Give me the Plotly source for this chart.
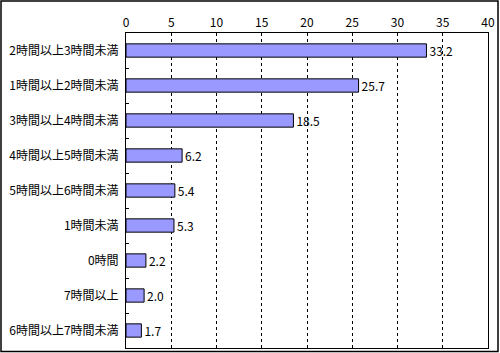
import plotly.graph_objects as go

categories = ["2時間以上3時間未満", "1時間以上2時間未満", "3時間以上4時間未満", "4時間以上5時間未満",
              "5時間以上6時間未満", "1時間未満", "0時間", "7時間以上", "6時間以上7時間未満"]
values = [33.2, 25.7, 18.5, 6.2, 5.4, 5.3, 2.2, 2.0, 1.7]
x_ticks = [0, 5, 10, 15, 20, 25, 30, 35, 40]

W, H = 500, 353
L, R, T, B = 126, 12, 33, 5
pw, ph = W - L - R, H - T - B

fig = go.Figure(go.Bar(
    y=categories, x=values, orientation="h",
    marker=dict(color="#9999FF", line=dict(color="black", width=1)),
    text=[f"{v:.1f}" for v in values], textposition="outside",
    textfont=dict(family="Noto Sans CJK JP", size=12, color="black"),
    constraintext="none", cliponaxis=False, width=0.38,
))

fig.update_layout(
    width=W, height=H, margin=dict(l=L, r=R, t=T, b=B),
    paper_bgcolor="white", plot_bgcolor="white", showlegend=False,
    font=dict(family="Noto Sans CJK JP", size=12, color="black"),
    xaxis=dict(range=[0, 40], tickvals=x_ticks, side="top", showgrid=True,
               gridcolor="black", griddash="3px,3px", gridwidth=1, zeroline=False,
               showline=True, linecolor="black", linewidth=1, mirror=True,
               ticks="", tickfont=dict(size=12)),
    yaxis=dict(autorange="reversed", showline=True, linecolor="black", linewidth=1,
               mirror=True, ticks="inside", ticklen=3, tickcolor="black",
               tickson="boundaries", showgrid=False, tickfont=dict(size=12),
               ticklabelstandoff=4),
    shapes=[dict(type="rect", xref="paper", yref="paper",
                 x0=(1 - L) / pw, x1=(498 - L) / pw,
                 y0=(H - B - 351.5) / ph, y1=(H - B - 1) / ph,
                 line=dict(color="black", width=1.5))],
)

fig.write_html("out.html")
